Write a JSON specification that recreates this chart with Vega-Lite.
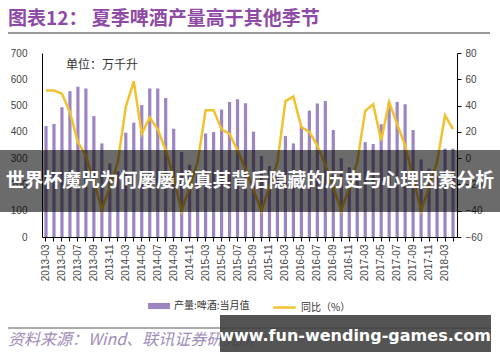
{
  "$schema": "https://vega.github.io/schema/vega-lite/v6.json",
  "width": 415,
  "height": 184,
  "autosize": {"type": "none"},
  "padding": {"left": 42, "top": 53, "right": 43, "bottom": 125},
  "background": "white",
  "config": {
    "view": {"stroke": null},
    "font": "Noto Sans CJK SC",
    "axis": {"domainColor": "#000", "tickColor": "#000", "labelColor": "#444", "labelFont": "Liberation Sans", "labelFontSize": 10, "grid": false, "title": null}
  },
  "data": {"values": [
    {"month": "2013-03", "output": 422, "yoy": 51.5},
    {"month": "2013-04", "output": 430, "yoy": 51.5},
    {"month": "2013-05", "output": 494, "yoy": 49},
    {"month": "2013-06", "output": 555, "yoy": 35},
    {"month": "2013-07", "output": 572, "yoy": 12},
    {"month": "2013-08", "output": 565, "yoy": 2},
    {"month": "2013-09", "output": 460, "yoy": -18},
    {"month": "2013-10", "output": 356, "yoy": -39},
    {"month": "2013-11", "output": 280, "yoy": -22},
    {"month": "2013-12", "output": 250, "yoy": -3},
    {"month": "2014-03", "output": 397, "yoy": 39},
    {"month": "2014-04", "output": 435, "yoy": 58.5},
    {"month": "2014-05", "output": 502, "yoy": 18.5},
    {"month": "2014-06", "output": 565, "yoy": 31},
    {"month": "2014-07", "output": 565, "yoy": 22},
    {"month": "2014-08", "output": 529, "yoy": 6},
    {"month": "2014-09", "output": 412, "yoy": -15},
    {"month": "2014-10", "output": 324, "yoy": -40},
    {"month": "2014-11", "output": 275, "yoy": -22},
    {"month": "2014-12", "output": 235, "yoy": -3},
    {"month": "2015-03", "output": 394, "yoy": 36.5},
    {"month": "2015-04", "output": 399, "yoy": 36.5},
    {"month": "2015-05", "output": 485, "yoy": 22},
    {"month": "2015-06", "output": 514, "yoy": 18.5},
    {"month": "2015-07", "output": 524, "yoy": 6},
    {"month": "2015-08", "output": 509, "yoy": -8},
    {"month": "2015-09", "output": 401, "yoy": -24},
    {"month": "2015-10", "output": 308, "yoy": -40},
    {"month": "2015-11", "output": 270, "yoy": -22},
    {"month": "2015-12", "output": 240, "yoy": -3},
    {"month": "2016-03", "output": 384, "yoy": 43.4},
    {"month": "2016-04", "output": 356, "yoy": 47},
    {"month": "2016-05", "output": 422, "yoy": 23.6},
    {"month": "2016-06", "output": 481, "yoy": 20},
    {"month": "2016-07", "output": 508, "yoy": 9.6},
    {"month": "2016-08", "output": 517, "yoy": -5},
    {"month": "2016-09", "output": 407, "yoy": -22},
    {"month": "2016-10", "output": 300, "yoy": -40},
    {"month": "2016-11", "output": 265, "yoy": -22},
    {"month": "2016-12", "output": 235, "yoy": -3},
    {"month": "2017-03", "output": 361, "yoy": 36},
    {"month": "2017-04", "output": 354, "yoy": 41},
    {"month": "2017-05", "output": 429, "yoy": 13.5},
    {"month": "2017-06", "output": 511, "yoy": 42.6},
    {"month": "2017-07", "output": 514, "yoy": 26},
    {"month": "2017-08", "output": 505, "yoy": 9.6},
    {"month": "2017-09", "output": 407, "yoy": -15},
    {"month": "2017-10", "output": 295, "yoy": -40},
    {"month": "2017-11", "output": 260, "yoy": -22},
    {"month": "2017-12", "output": 230, "yoy": -3},
    {"month": "2018-03", "output": 336, "yoy": 32.5},
    {"month": "2018-04", "output": 336, "yoy": 22}
  ]},
  "layer": [
    {
      "mark": {"type": "bar"},
      "encoding": {
        "x": {"field": "month", "type": "ordinal", "sort": null,
              "scale": {"paddingInner": 0.6, "paddingOuter": 0.3},
              "axis": {"labelAngle": -90, "tickSize": 4, "labelPadding": 3, "labelExpr": "toNumber(slice(datum.value, 5)) % 2 == 1 ? datum.value : ''"}},
        "y": {"field": "output", "type": "quantitative", "scale": {"domain": [0, 700], "nice": false},
              "axis": {"values": [0, 100, 200, 300, 400, 500, 600, 700], "ticks": false, "labelPadding": 15}},
        "fill": {"datum": "产量:啤酒:当月值", "scale": {"range": ["#9d85c2"]},
                 "legend": {"orient": "none", "legendX": 106, "legendY": 242, "title": null, "symbolType": "M-1,-0.28L1,-0.28L1,0.28L-1,0.28Z", "symbolSize": 480, "symbolStrokeWidth": 0, "labelFontSize": 10, "labelColor": "#333", "labelFont": "Noto Sans CJK SC", "padding": 0}}
      }
    },
    {
      "mark": {"type": "line", "color": "#f2c12e", "strokeWidth": 2.5},
      "encoding": {
        "x": {"field": "month", "type": "ordinal", "sort": null},
        "y": {"field": "yoy", "type": "quantitative", "scale": {"domain": [-60, 80], "nice": false},
              "axis": {"orient": "right", "values": [-60, -40, -20, 0, 20, 40, 60, 80], "tickSize": 4, "labelPadding": 4}},
        "stroke": {"datum": "同比（%）", "scale": {"range": ["#f2c12e"]},
                   "legend": {"orient": "none", "legendX": 230, "legendY": 242, "title": null, "symbolType": "stroke", "symbolSize": 500, "symbolStrokeWidth": 2.5, "labelFontSize": 10, "labelColor": "#333", "labelFont": "Noto Sans CJK SC", "padding": 0}}
      }
    },
    {
      "data": {"values": [{"t": "图表12：  夏季啤酒产量高于其他季节"}]},
      "mark": {"type": "text", "align": "left", "baseline": "middle", "fontSize": 19, "fontWeight": "bold", "color": "#8e4aa5", "font": "Noto Sans CJK SC"},
      "encoding": {"text": {"field": "t"}, "x": {"value": -34}, "y": {"value": -34}}
    },
    {
      "data": {"values": [{"t": "单位：万千升"}]},
      "mark": {"type": "text", "align": "left", "baseline": "middle", "fontSize": 12, "color": "#333", "font": "Noto Sans CJK SC"},
      "encoding": {"text": {"field": "t"}, "x": {"value": 24}, "y": {"value": 12}}
    },
    {
      "data": {"values": [{"t": "资料来源：Wind、联讯证券研究所"}]},
      "mark": {"type": "text", "align": "left", "baseline": "middle", "fontSize": 16, "fontStyle": "italic", "color": "#a08cb6", "font": "Noto Sans CJK SC"},
      "encoding": {"text": {"field": "t"}, "x": {"value": -34}, "y": {"value": 287}}
    },
    {
      "data": {"values": [{"k": 1}]},
      "mark": {"type": "rect", "color": "#aaaaaa"},
      "encoding": {"x": {"value": -34}, "x2": {"value": 448}, "y": {"value": 274}, "y2": {"value": 276}}
    },
    {
      "data": {"values": [{"k": 1}]},
      "mark": {"type": "rect", "color": "#999999"},
      "encoding": {"x": {"value": -34}, "x2": {"value": 448}, "y": {"value": -21}, "y2": {"value": -19}}
    },
    {
      "data": {"values": [{"k": 1}]},
      "mark": {"type": "rect", "color": "#000", "opacity": 0.58},
      "encoding": {"x": {"value": -42}, "x2": {"value": 458}, "y": {"value": 97}, "y2": {"value": 159}}
    },
    {
      "data": {"values": [{"t": "世界杯魔咒为何屡屡成真其背后隐藏的历史与心理因素分析"}]},
      "mark": {"type": "text", "align": "center", "baseline": "middle", "fontSize": 18.8, "fontWeight": "bold", "color": "#fff", "font": "Noto Sans CJK SC"},
      "encoding": {"text": {"field": "t"}, "x": {"value": 208}, "y": {"value": 128}}
    },
    {
      "data": {"values": [{"k": 1}]},
      "mark": {"type": "rect", "color": "#3c3c3c", "opacity": 0.88},
      "encoding": {"x": {"value": 178}, "x2": {"value": 449}, "y": {"value": 262}, "y2": {"value": 299}}
    },
    {
      "data": {"values": [{"t": "www.fun-wending-games.com"}]},
      "mark": {"type": "text", "align": "center", "baseline": "middle", "fontSize": 16, "fontWeight": "bold", "color": "#fff", "font": "DejaVu Sans"},
      "encoding": {"text": {"field": "t"}, "x": {"value": 313}, "y": {"value": 283}}
    }
  ],
  "resolve": {"scale": {"y": "independent"}}
}
